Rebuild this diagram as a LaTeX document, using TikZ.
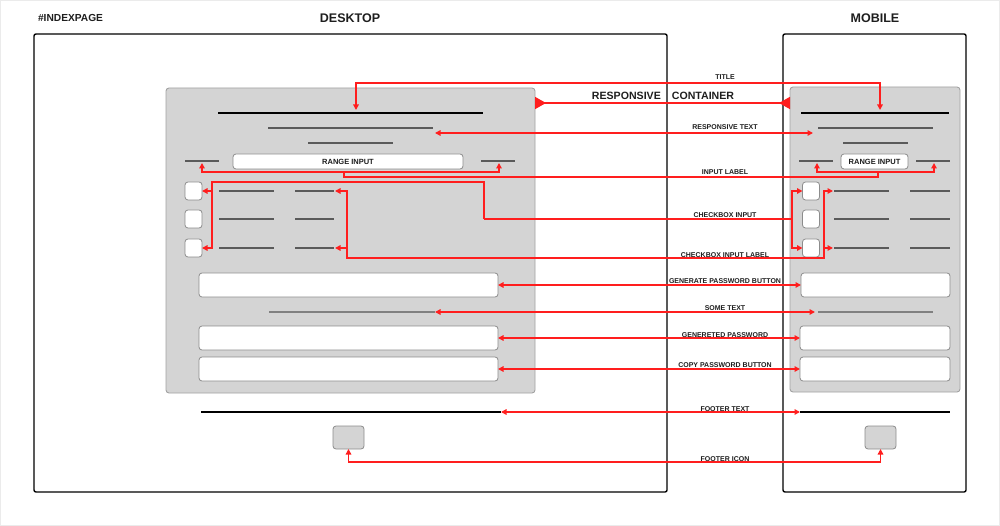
\documentclass[tikz,border=0pt]{standalone}
\usepackage{fontspec}
\setmainfont{Liberation Sans}
\usetikzlibrary{arrows.meta,calc}

\definecolor{panelfill}{HTML}{D4D4D4}
\definecolor{paneledge}{HTML}{A2A2A2}
\definecolor{fieldedge}{HTML}{8C8C8C}
\definecolor{linkred}{HTML}{FF1E1E}
\definecolor{rulegray}{HTML}{5A5A5A}
\definecolor{inktext}{HTML}{1E1E1E}

\tikzset{
  screen/.style={draw=black, line width=1.4pt, rounded corners=2pt, inner sep=0pt, outer sep=0pt},
  panel/.style={draw=paneledge, fill=panelfill, line width=0.9pt, rounded corners=3pt, inner sep=0pt, outer sep=0pt},
  field/.style={draw=fieldedge, fill=white, line width=0.8pt, rounded corners=3pt, inner sep=0pt, outer sep=0pt,
                font=\fontsize{7.5}{8}\selectfont\bfseries, text=inktext},
  tick/.style={field, minimum width=17pt, minimum height=18pt},
  iconbox/.style={draw=fieldedge, fill=panelfill, line width=0.8pt, rounded corners=3pt, inner sep=0pt, outer sep=0pt,
                  minimum width=31pt, minimum height=23pt},
  boldrule/.style={draw=black, line width=1.4pt},
  textrule/.style={draw=rulegray, line width=1.3pt},
  lightrule/.style={draw=gray, line width=1.6pt},
  link/.style={draw=linkred, line width=1.6pt, >={Triangle[length=5.5pt,width=5.5pt]}},
  bigtip/.style={draw=linkred, line width=1.6pt,
                 {Triangle[reversed,length=11pt,width=12pt]}-{Triangle[reversed,length=11pt,width=12pt]}},
  heading/.style={font=\fontsize{12.5}{14}\selectfont\bfseries, text=inktext},
  tag/.style={font=\fontsize{7}{8}\selectfont\bfseries, text=inktext, inner sep=0pt},
}

\begin{document}
\begin{tikzpicture}[x=1pt, y=-1pt]
\useasboundingbox (0,0) rectangle (1000,526);
\draw[draw=black!8, line width=1pt] (0.5,0.5) rectangle (999.5,525.5);

% headings
\node[anchor=west, font=\fontsize{10.2}{12}\selectfont\bfseries, text=inktext] (pagename) at (34.5,18) {\#INDEXPAGE};
\node[heading] (deskhead) at (350,18) {DESKTOP};
\node[heading] (mobhead) at (875,18) {MOBILE};

% screens and responsive containers
\node[screen, minimum width=633pt, minimum height=458pt] (dframe) at (350.5,263) {};
\node[screen, minimum width=183pt, minimum height=458pt] (mframe) at (874.5,263) {};
\node[panel, minimum width=369pt, minimum height=305pt] (dpanel) at (350.5,240.5) {};
\node[panel, minimum width=170pt, minimum height=305pt] (mpanel) at (875,239.5) {};

% ---------- desktop layout ----------
\coordinate (dtitleA) at (218,113);  \coordinate (dtitleB) at (483,113);
\draw[boldrule] (dtitleA) -- (dtitleB);
\coordinate (dsubA) at (268,128);  \coordinate (dsubB) at (433,128);
\draw[textrule] (dsubA) -- (dsubB);
\draw[textrule] (308,143) -- (393,143);
\coordinate (drangeL) at (202,163);  \coordinate (drangeR) at (499,163);
\draw[textrule] (185,161) -- (219,161);
\draw[textrule] (481,161) -- (515,161);
\node[field, minimum width=230pt, minimum height=15pt] (drange) at (348,161.5) {RANGE INPUT};

\foreach \r/\y in {1/191, 2/219, 3/248} {
  \node[tick] (dcb\r) at (193.5,\y) {};
  \draw[textrule] (219,\y) -- (274,\y);
  \draw[textrule] (295,\y) -- (334,\y);
  \coordinate (dlbl\r) at (335,\y);
}

\node[field, minimum width=299pt, minimum height=24pt] (dgen) at (348.5,285) {};
\coordinate (dsomeA) at (269,312);  \coordinate (dsomeB) at (435,312);
\draw[lightrule] (dsomeA) -- (dsomeB);
\node[field, minimum width=299pt, minimum height=24pt] (dpw) at (348.5,338) {};
\node[field, minimum width=299pt, minimum height=24pt] (dcopy) at (348.5,369) {};
\coordinate (dfootA) at (201,412);  \coordinate (dfootB) at (501,412);
\draw[boldrule, line width=1.3pt] (dfootA) -- (dfootB);
\node[iconbox] (dicon) at (348.5,437.5) {};

% ---------- mobile layout ----------
\draw[boldrule] (801,113) -- (949,113);
\coordinate (msubA) at (818,128);
\draw[textrule] (msubA) -- (933,128);
\draw[textrule] (843,143) -- (908,143);
\coordinate (mrangeL) at (817,163);  \coordinate (mrangeR) at (934,163);
\draw[textrule] (799,161) -- (833,161);
\draw[textrule] (916,161) -- (950,161);
\node[field, minimum width=67pt, minimum height=15pt] (mrange) at (874.5,161.5) {RANGE INPUT};

\foreach \r/\y in {1/191, 2/219, 3/248} {
  \node[tick] (mcb\r) at (811,\y) {};
  \draw[textrule] (834,\y) -- (889,\y);
  \draw[textrule] (910,\y) -- (950,\y);
  \coordinate (mlbl\r) at (833,\y);
}

\node[field, minimum width=149pt, minimum height=24pt] (mgen) at (875.5,285) {};
\coordinate (msomeA) at (818,312);
\draw[lightrule] (msomeA) -- (933,312);
\node[field, minimum width=150pt, minimum height=24pt] (mpw) at (875,338) {};
\node[field, minimum width=150pt, minimum height=24pt] (mcopy) at (875,369) {};
\coordinate (mfootA) at (800,412);
\draw[boldrule, line width=1.3pt] (mfootA) -- (950,412);
\node[iconbox] (micon) at (880.5,437.5) {};

% ---------- connectors ----------
% title
\coordinate (dtitleT) at (356,110);  \coordinate (mtitleT) at (880,110);
\draw[link,<->] (dtitleT) -- ++(0,-27) -| (mtitleT);

% responsive container
\draw[bigtip] ($(dpanel.north east)+(0,15)$) -- ($(mpanel.north west)+(0,16)$);

% responsive text
\coordinate (drespT) at (435,133);  \coordinate (mrespT) at (813,133);
\draw[link,<->] (drespT) -- (mrespT);

% input label
\draw[link,<->] (drangeL) -- ++(0,9) -| (drangeR);
\draw[link,<->] (mrangeL) -- ++(0,9) -| (mrangeR);
\coordinate (dinJ) at (344,172);  \coordinate (minJ) at (878,172);
\draw[link] (dinJ) -- ++(0,5) -| (minJ);

% checkbox input
\coordinate (dcbTop) at (212,182);  \coordinate (dcbKnee) at (484,219);  \coordinate (mcbJ) at (792,219);
\draw[link,->] (dcbKnee) |- (dcbTop) -- (dcbTop |- dcb3.east) -- (dcb3.east);
\draw[link,->] (dcbTop |- dcb1.east) -- (dcb1.east);
\draw[link] (dcbKnee) -- (mcbJ);
\draw[link,->] (mcbJ) -- (mcbJ |- mcb1.west) -- (mcb1.west);
\draw[link,->] (mcbJ) -- (mcbJ |- mcb3.west) -- (mcb3.west);

% checkbox input label
\coordinate (dlbLow) at (347,258);  \coordinate (mlbLow) at (824,258);
\draw[link,<->] (dlbl1) -- (dlbl1 -| dlbLow) -- (dlbLow) -- (mlbLow) -- (mlbLow |- mlbl1) -- (mlbl1);
\draw[link,->] (dlbl3 -| dlbLow) -- (dlbl3);
\draw[link,->] (mlbl3 -| mlbLow) -- (mlbl3);

% buttons, text and footer
\draw[link,<->] (dgen.east) -- (mgen.west);
\draw[link,<->] (dsomeB) -- ($(msomeA)+(-3,0)$);
\draw[link,<->] (dpw.east) -- (mpw.west);
\draw[link,<->] (dcopy.east) -- (mcopy.west);
\draw[link,<->] (dfootB) -- (mfootA);
\draw[link,<->] (dicon.south) -- ++(0,13) -| (micon.south);

% connector labels
\node[tag] (ttitle) at (725,77.5) {TITLE};
\node[font=\fontsize{10.6}{12}\selectfont\bfseries, text=inktext, inner sep=0pt] (tcontainer) at (663,95.5) {RESPONSIVE\hspace{11pt}CONTAINER};
\node[tag] (tresp) at (725,127.5) {RESPONSIVE TEXT};
\node[tag] (tinput) at (725,172.5) {INPUT LABEL};
\node[tag] (tcb) at (725,215) {CHECKBOX INPUT};
\node[tag] (tcbl) at (725,255) {CHECKBOX INPUT LABEL};
\node[tag] (tgen) at (725,281.5) {GENERATE PASSWORD BUTTON};
\node[tag] (tsome) at (725,308) {SOME TEXT};
\node[tag] (tpw) at (725,335) {GENERETED PASSWORD};
\node[tag] (tcopy) at (725,365.5) {COPY PASSWORD BUTTON};
\node[tag] (tfoot) at (725,409) {FOOTER TEXT};
\node[tag] (ticon) at (725,459) {FOOTER ICON};
\end{tikzpicture}
\end{document}
